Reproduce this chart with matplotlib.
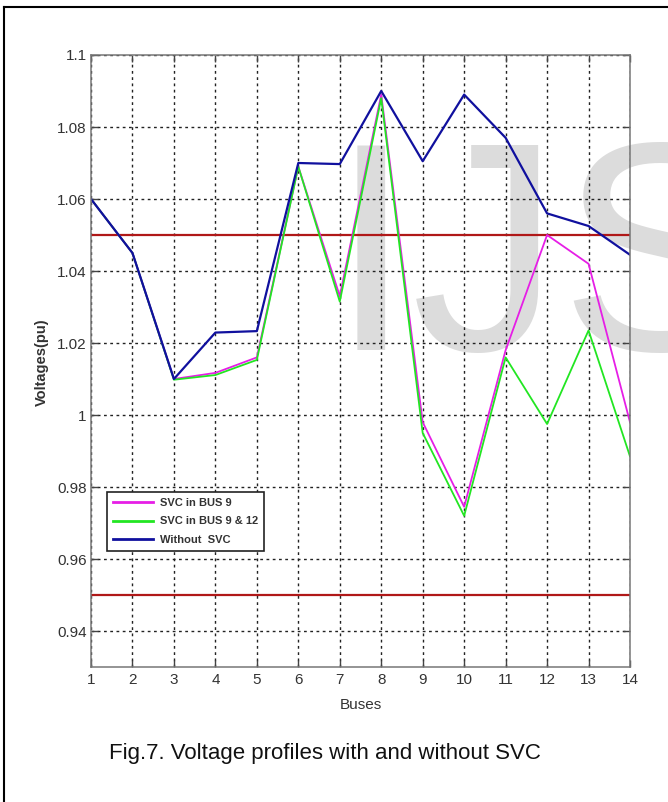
import matplotlib
matplotlib.use("Agg")
import matplotlib.pyplot as plt
from matplotlib.lines import Line2D

buses = list(range(1, 15))
v_svc9 = [1.060, 1.045, 1.010, 1.0117, 1.016, 1.069, 1.033, 1.089, 0.998, 0.9745, 1.018, 1.050, 1.042, 0.998]
v_svc9_12 = [1.060, 1.045, 1.0098, 1.0111, 1.0153, 1.069, 1.0315, 1.088, 0.995, 0.972, 1.016, 0.9975, 1.0235, 0.9885]
v_none = [1.060, 1.045, 1.010, 1.0229, 1.0233, 1.070, 1.0697, 1.090, 1.0705, 1.089, 1.077, 1.056, 1.0525, 1.0445]
limits = [1.05, 0.95]
yticks = [0.94, 0.96, 0.98, 1.00, 1.02, 1.04, 1.06, 1.08, 1.10]
ytick_labels = ["0.94", "0.96", "0.98", "1", "1.02", "1.04", "1.06", "1.08", "1.1"]
series_labels = ["SVC in BUS 9", "SVC in BUS 9 & 12", "Without  SVC"]
caption = "Fig.7. Voltage profiles with and without SVC"
watermark = "IJS"

W, H = 668, 802
fig = plt.figure(figsize=(W / 100, H / 100), dpi=100)
fig.patch.set_facecolor("white")

narrow = ["Liberation Sans Narrow", "Liberation Sans", "DejaVu Sans"]
reg = ["Liberation Sans", "DejaVu Sans"]

ax = fig.add_axes([91 / W, 1 - 667 / H, (630 - 91) / W, (667 - 55) / H])
ax.set_axisbelow(True)

# watermark
ax.text(330 / W, 1 - 350 / H, watermark, transform=fig.transFigure, fontsize=214,
        family=reg, color="#dcdcdc", va="baseline", ha="left", zorder=0.2, clip_on=False)

for lv in limits:
    ax.axhline(lv, color="#b01818", lw=1.6, zorder=1.5)

ax.plot(buses, v_svc9, color="#e61ee6", lw=1.3, zorder=2, label=series_labels[0])
ax.plot(buses, v_svc9_12, color="#22e622", lw=1.3, zorder=2.1, label=series_labels[1])
ax.plot(buses, v_none, color="#10109e", lw=1.6, zorder=2.2, label=series_labels[2])

ax.set_xlim(1, 14)
ax.set_ylim(0.93, 1.10)
ax.set_xticks(buses)
ax.set_xticklabels([str(b) for b in buses], family=narrow, fontsize=11, color="#333333")
ax.set_yticks(yticks)
ax.set_yticklabels(ytick_labels, family=narrow, fontsize=11, color="#333333")
ax.tick_params(direction="in", length=5, width=1, color="#444444", top=True, right=True, pad=4)
ax.tick_params(axis="y", pad=3)
ax.grid(True, color="#222222", linestyle=(0, (2, 2.5)), linewidth=1.0)
for sp in ax.spines.values():
    sp.set_color("#777777")
    sp.set_linewidth(1.1)

ax.set_xlabel("Buses", family=narrow, fontsize=11, color="#333333", labelpad=8)
fig.text(42 / W, 1 - 362 / H, "Voltages(pu)", rotation=90, ha="center", va="center",
         family=reg, fontsize=10.5, fontweight="bold", color="#333333")

leg = ax.legend(loc="upper left", bbox_to_anchor=(107 / W, 1 - 492 / H),
                bbox_transform=fig.transFigure, borderaxespad=0,
                prop={"family": narrow, "size": 8, "weight": "bold"},
                fancybox=False, framealpha=1, edgecolor="#222222",
                handlelength=3.6, handletextpad=0.6, labelspacing=0.75, borderpad=0.55)
leg.get_frame().set_linewidth(1.2)
for t in leg.get_texts():
    t.set_color("#333333")
for h in leg.get_lines():
    h.set_linewidth(2.0)

fig.text(325 / W, 1 - 753 / H, caption, ha="center", va="center", family=reg,
         fontsize=16, color="#111111")

# outer frame (left and top)
fig.add_artist(Line2D([4 / W, 4 / W], [0, 1 - 7 / H], color="black", lw=1.5, transform=fig.transFigure))
fig.add_artist(Line2D([4 / W, 1], [1 - 7 / H, 1 - 7 / H], color="black", lw=1.5, transform=fig.transFigure))

fig.savefig("out.png", dpi=100)
